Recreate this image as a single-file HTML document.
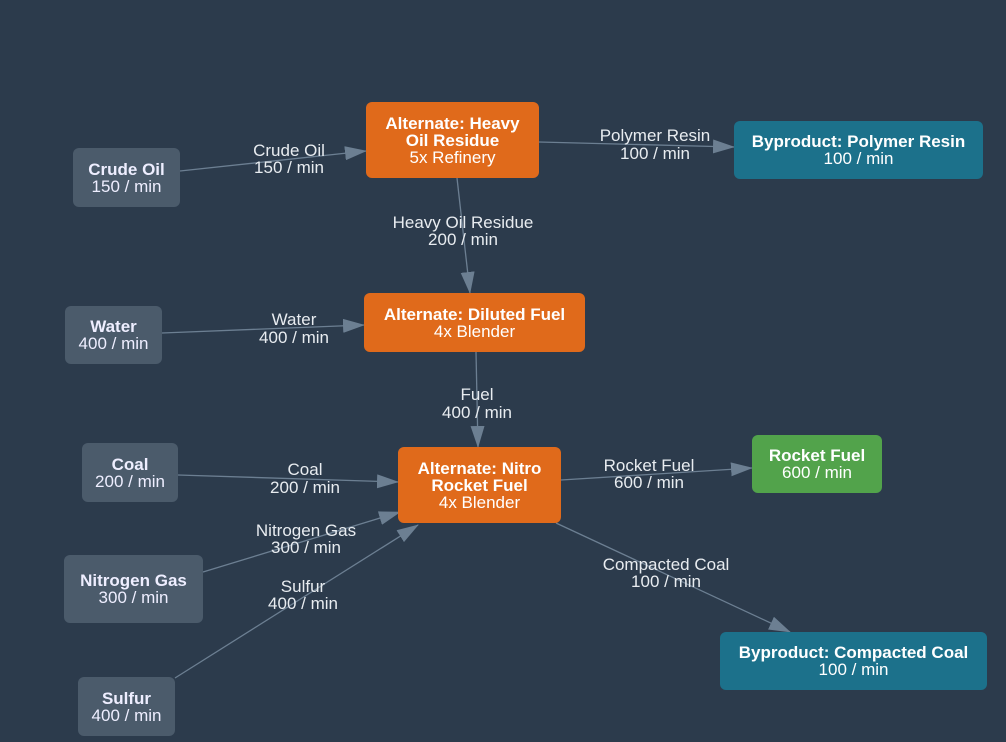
<!DOCTYPE html>
<html><head><meta charset="utf-8"><style>
html,body{margin:0;padding:0;background:#2c3b4c;}
body{width:1006px;height:742px;position:relative;overflow:hidden;font-family:"Liberation Sans",sans-serif;}
.n{position:absolute;border-radius:6px;color:#fff;text-align:center;font-size:17px;line-height:17px;display:flex;flex-direction:column;justify-content:center;box-sizing:border-box;}
.n b{font-weight:bold;}
.s{background:#4b5b6b;color:#eef;}
.o{background:#e06a1b;}
.t{background:#1c718b;}
.g{background:#52a34b;}
svg{position:absolute;left:0;top:0;}
.l{fill:#e8ecf0;font-size:17px;text-anchor:middle;font-family:"Liberation Sans",sans-serif;}
</style></head><body>
<svg width="1006" height="742">
<defs><marker id="a" markerWidth="22" markerHeight="14" refX="21" refY="7" orient="auto" markerUnits="userSpaceOnUse"><path d="M0,0 L22,7 L0,14 Z" fill="#6c7f92"/></marker></defs>
<g stroke="#6c7f92" stroke-width="1.3" marker-end="url(#a)">
<line x1="180" y1="171" x2="366" y2="151"/>
<line x1="539" y1="142" x2="734" y2="147"/>
<line x1="457" y1="178" x2="470" y2="293"/>
<line x1="162" y1="333" x2="364" y2="325"/>
<line x1="476" y1="352" x2="478" y2="447"/>
<line x1="178" y1="475" x2="398" y2="482"/>
<line x1="203" y1="572" x2="400" y2="512"/>
<line x1="175" y1="678" x2="418" y2="525"/>
<line x1="561" y1="480" x2="752" y2="468"/>
<line x1="556" y1="523" x2="790" y2="632"/>
</g>
<text class="l" x="289" y="156">Crude Oil</text><text class="l" x="289" y="173">150 / min</text>
<text class="l" x="655" y="141">Polymer Resin</text><text class="l" x="655" y="159">100 / min</text>
<text class="l" x="463" y="228">Heavy Oil Residue</text><text class="l" x="463" y="245">200 / min</text>
<text class="l" x="294" y="325">Water</text><text class="l" x="294" y="343">400 / min</text>
<text class="l" x="477" y="400">Fuel</text><text class="l" x="477" y="418">400 / min</text>
<text class="l" x="305" y="475">Coal</text><text class="l" x="305" y="493">200 / min</text>
<text class="l" x="306" y="536">Nitrogen Gas</text><text class="l" x="306" y="553">300 / min</text>
<text class="l" x="303" y="592">Sulfur</text><text class="l" x="303" y="609">400 / min</text>
<text class="l" x="649" y="471">Rocket Fuel</text><text class="l" x="649" y="488">600 / min</text>
<text class="l" x="666" y="570">Compacted Coal</text><text class="l" x="666" y="587">100 / min</text>
</svg>
<div class="n s" style="left:73px;top:148px;width:107px;height:59px"><b>Crude Oil</b>150 / min</div>
<div class="n o" style="left:366px;top:102px;width:173px;height:76px"><b>Alternate: Heavy<br>Oil Residue</b>5x Refinery</div>
<div class="n t" style="left:734px;top:121px;width:249px;height:58px"><b>Byproduct: Polymer Resin</b>100 / min</div>
<div class="n s" style="left:65px;top:306px;width:97px;height:58px"><b>Water</b>400 / min</div>
<div class="n o" style="left:364px;top:293px;width:221px;height:59px"><b>Alternate: Diluted Fuel</b>4x Blender</div>
<div class="n s" style="left:82px;top:443px;width:96px;height:59px"><b>Coal</b>200 / min</div>
<div class="n o" style="left:398px;top:447px;width:163px;height:76px"><b>Alternate: Nitro<br>Rocket Fuel</b>4x Blender</div>
<div class="n g" style="left:752px;top:435px;width:130px;height:58px"><b>Rocket Fuel</b>600 / min</div>
<div class="n s" style="left:64px;top:555px;width:139px;height:68px"><b>Nitrogen Gas</b>300 / min</div>
<div class="n s" style="left:78px;top:677px;width:97px;height:59px"><b>Sulfur</b>400 / min</div>
<div class="n t" style="left:720px;top:632px;width:267px;height:58px"><b>Byproduct: Compacted Coal</b>100 / min</div>
</body></html>
